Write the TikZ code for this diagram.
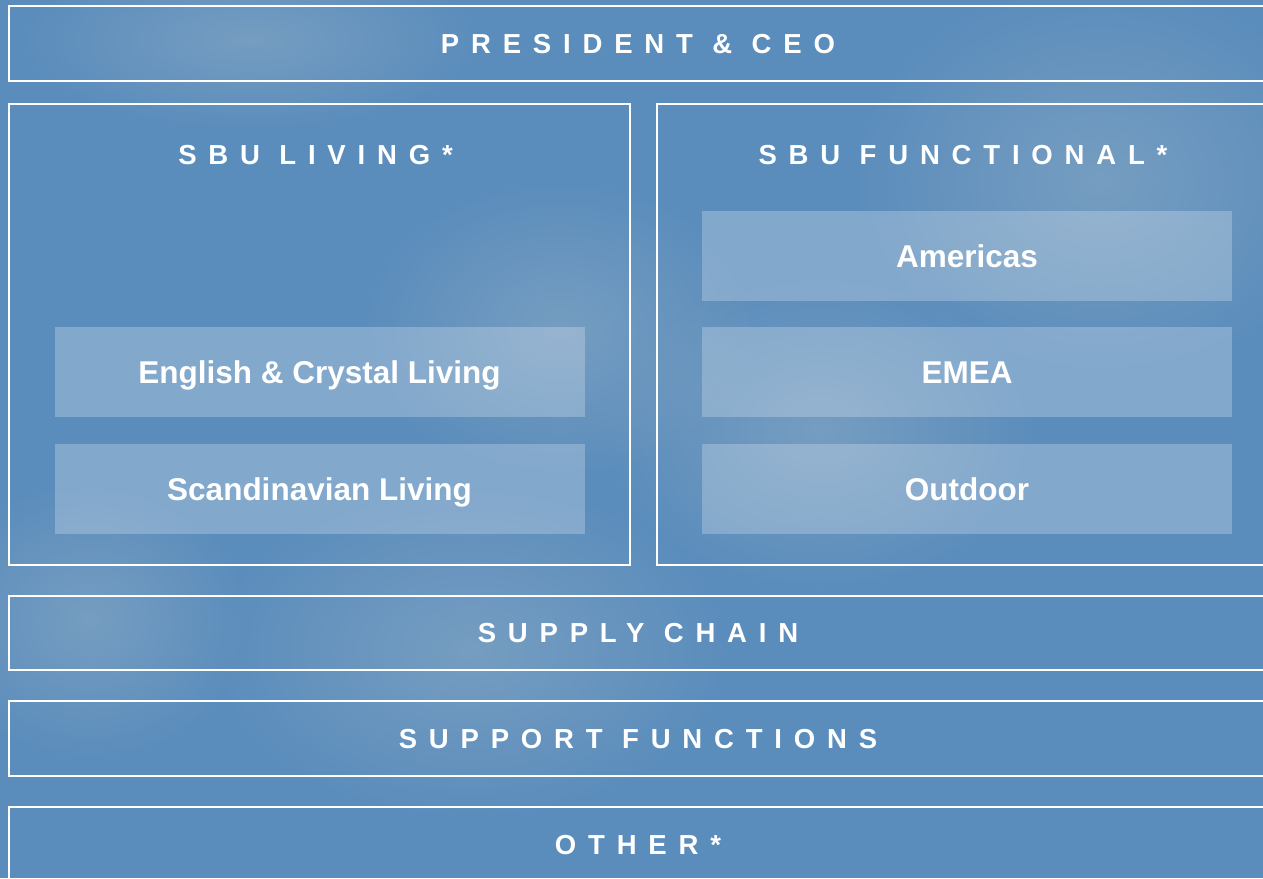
\documentclass[tikz,border=0pt]{standalone}
\usepackage{fontspec}
\setmainfont{Liberation Sans}
\newfontfamily\widefont[LetterSpace=43]{Liberation Sans}
\usetikzlibrary{positioning,fadings}

\definecolor{skyblue}{HTML}{5B8DBC}
\definecolor{haze}{HTML}{A9BCCB}
\tikzfading[name=softedge, inner color=transparent!0, outer color=transparent!100]

\begin{document}
\begin{tikzpicture}[
    x=1pt, y=1pt,
    frame/.style={draw=white, line width=1.5pt, inner sep=0pt, outer sep=0pt},
    spaced/.style={font=\widefont\bfseries\fontsize{27.5}{27.5}\selectfont, text=white, text height=19.7pt, text depth=0pt, execute at begin node={\kern-8pt}},
    strip/.style={frame, spaced, minimum width=1266pt, minimum height=75pt},
    headline/.style={spaced, inner sep=0pt},
    unit/.style={fill=white, fill opacity=0.24, text opacity=1, minimum width=530pt, minimum height=90pt, inner sep=0pt, font=\bfseries\fontsize{31.5}{31.5}\selectfont, text=white, text height=22.6pt, text depth=0pt},
    cloud/.style={fill=haze, path fading=softedge, opacity=0.35},
  ]
    \useasboundingbox (0,0) rectangle (1263,-878);
    \clip (0,0) rectangle (1263,-878);
    \fill[skyblue] (0,0) rectangle (1263,-878);

    % soft clouds
    \fill[cloud] (470,-650) ellipse (260 and 170);
    \fill[cloud] (1100,-180) ellipse (250 and 200);
    \fill[cloud] (820,-430) ellipse (220 and 160);
    \fill[cloud] (90,-620) ellipse (160 and 140);
    \fill[cloud] (560,-330) ellipse (200 and 150);
    \fill[cloud] (250,-40) ellipse (230 and 90);

    \node[strip, anchor=north west] (ceo) at (9,-6) {PRESIDENT \& CEO};

    \node[frame, below=23pt of ceo.south west, anchor=north west, minimum width=621pt, minimum height=461pt] (living) {};
    \node[frame, right=27pt of living.north east, anchor=north west, minimum width=620pt, minimum height=461pt] (functional) {};
    \node[headline, yshift=-51pt] (livinghead) at (living.north) {SBU LIVING*};
    \node[headline, yshift=-51pt] (functionalhead) at (functional.north) {SBU FUNCTIONAL*};

    \node[unit, above=31pt of living.south] (scandinavian) {Scandinavian Living};
    \node[unit, above=26pt of scandinavian] (english) {English \& Crystal Living};
    \node[unit, above=31pt of functional.south] (outdoor) {Outdoor};
    \node[unit, above=26pt of outdoor] (emea) {EMEA};
    \node[unit, above=26pt of emea] (americas) {Americas};

    \node[strip, below=31pt of living.south west, anchor=north west, minimum height=74pt] (supply) {SUPPLY CHAIN};
    \node[strip, below=31pt of supply.south west, anchor=north west] (support) {SUPPORT FUNCTIONS};
    \node[strip, below=31pt of support.south west, anchor=north west] (other) {OTHER*};
\end{tikzpicture}
\end{document}
